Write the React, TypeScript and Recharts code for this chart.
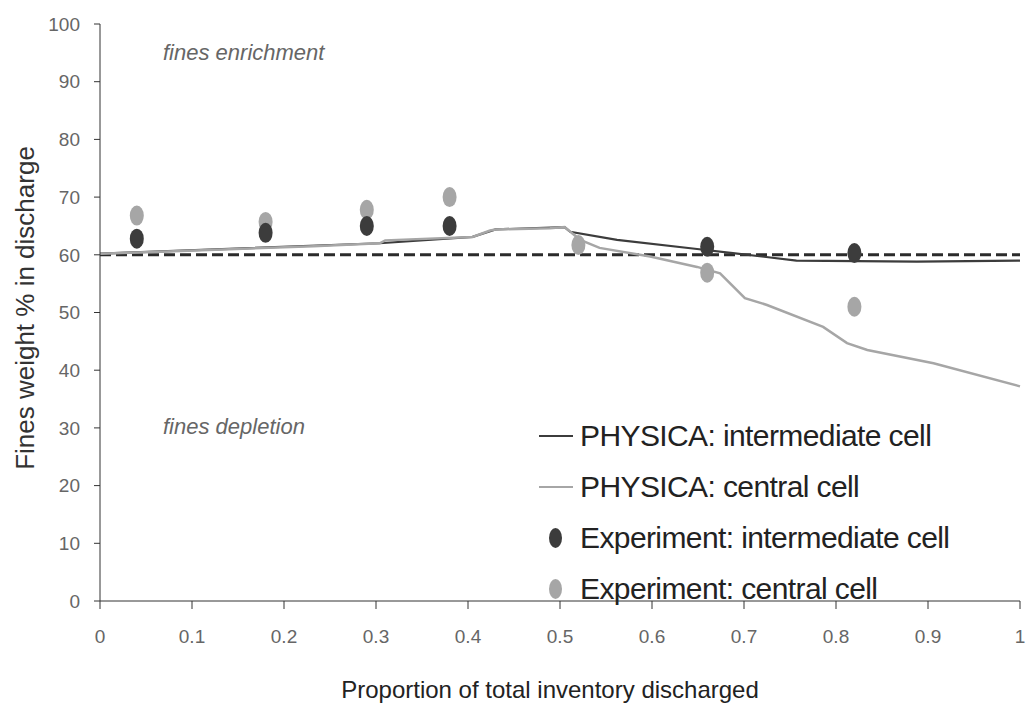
import React from "react"
import {
  ComposedChart, Line, Scatter, XAxis, YAxis, ReferenceLine
} from "recharts"

document.body.style.margin = "0"

const xTicks = [0, 0.1, 0.2, 0.3, 0.4, 0.5, 0.6, 0.7, 0.8, 0.9, 1]
const yTicks = [0, 10, 20, 30, 40, 50, 60, 70, 80, 90, 100]

// PHYSICA simulation curves (x = proportion discharged, y = fines %)
const simCentral = [
  { x: 0, y: 60.2 }, { x: 0.08, y: 60.6 }, { x: 0.148, y: 61.0 }, { x: 0.232, y: 61.5 },
  { x: 0.304, y: 62.0 }, { x: 0.31, y: 62.5 }, { x: 0.405, y: 63.1 }, { x: 0.424, y: 64.2 },
  { x: 0.43, y: 64.4 }, { x: 0.489, y: 64.6 }, { x: 0.505, y: 64.8 }, { x: 0.522, y: 62.6 },
  { x: 0.543, y: 61.2 }, { x: 0.598, y: 59.7 }, { x: 0.649, y: 57.9 }, { x: 0.674, y: 56.8 },
  { x: 0.701, y: 52.5 }, { x: 0.725, y: 51.3 }, { x: 0.786, y: 47.5 }, { x: 0.812, y: 44.7 },
  { x: 0.834, y: 43.5 }, { x: 0.906, y: 41.2 }, { x: 1, y: 37.2 },
]
const simIntermediate = [
  { x: 0, y: 60.2 }, { x: 0.304, y: 62.0 }, { x: 0.405, y: 63.1 }, { x: 0.43, y: 64.4 },
  { x: 0.505, y: 64.8 }, { x: 0.511, y: 64.0 }, { x: 0.562, y: 62.6 }, { x: 0.649, y: 61.0 },
  { x: 0.688, y: 60.3 }, { x: 0.757, y: 59.0 }, { x: 0.888, y: 58.8 }, { x: 1, y: 59.0 },
]

// experimental measurements
const expIntermediate = [
  { x: 0.04, y: 62.8 }, { x: 0.18, y: 63.8 }, { x: 0.29, y: 65.0 }, { x: 0.38, y: 65.0 },
  { x: 0.66, y: 61.4 }, { x: 0.82, y: 60.3 },
]
const expCentral = [
  { x: 0.04, y: 66.8 }, { x: 0.18, y: 65.7 }, { x: 0.29, y: 67.8 }, { x: 0.38, y: 70.0 },
  { x: 0.52, y: 61.7 }, { x: 0.66, y: 56.9 }, { x: 0.82, y: 51.0 },
]

const DARK = "#3c3c3c"
const LIGHT = "#a6a6a6"
const FONT = "'Liberation Sans', Arial, sans-serif"

const Ellipse = (color: string) => (props: any) => (
  <ellipse cx={props.cx} cy={props.cy} rx={7} ry={10} fill={color} />
)

const legendItems = [
  { label: "PHYSICA: intermediate cell", color: DARK, kind: "line" },
  { label: "PHYSICA: central cell", color: LIGHT, kind: "line" },
  { label: "Experiment: intermediate cell", color: DARK, kind: "dot" },
  { label: "Experiment: central cell", color: LIGHT, kind: "dot" },
]

const LegendBox = () => (
  <div style={{
    position: "absolute", left: 538, top: 410, fontFamily: FONT, fontSize: 30,
    letterSpacing: -0.6, color: "#222",
  }}>
    {legendItems.map(it => (
      <div key={it.label} style={{ display: "flex", alignItems: "center", height: 51 }}>
        <span style={{ width: 42, display: "flex", justifyContent: "center" }}>
          {it.kind === "line"
            ? <span style={{ width: 34, height: 2, background: it.color, marginLeft: -6 }} />
            : <span style={{ width: 13, height: 20, borderRadius: "50%", background: it.color, marginLeft: -8 }} />}
        </span>
        <span>{it.label}</span>
      </div>
    ))}
  </div>
)

const tickStyle = { fontSize: 19, fill: "#666", fontFamily: FONT }

export default function App() {
  return (
    <div style={{ position: "relative", width: 1031, height: 706, background: "#fff" }}>
      <ComposedChart width={1031} height={706} margin={{ top: 24, right: 11, left: 0, bottom: 75 }}>
        <XAxis
          type="number" dataKey="x" domain={[0, 1]} ticks={xTicks} height={30}
          tick={tickStyle} tickSize={8} tickMargin={21}
          stroke="#333" allowDuplicatedCategory={false}
        />
        <YAxis
          type="number" dataKey="y" domain={[0, 100]} ticks={yTicks} width={100}
          tick={tickStyle} tickSize={6} tickMargin={14} stroke="#333"
        />
        <ReferenceLine y={60} stroke="#2b2b2b" strokeWidth={3} strokeDasharray="11 5" />
        <Line data={simIntermediate} dataKey="y" type="linear" stroke={DARK} strokeWidth={2.2}
          dot={false} isAnimationActive={false} />
        <Line data={simCentral} dataKey="y" type="linear" stroke={LIGHT} strokeWidth={2.5}
          dot={false} isAnimationActive={false} />
        <Scatter data={expCentral} dataKey="y" fill={LIGHT} shape={Ellipse(LIGHT)} isAnimationActive={false} />
        <Scatter data={expIntermediate} dataKey="y" fill={DARK} shape={Ellipse(DARK)} isAnimationActive={false} />
      </ComposedChart>

      <LegendBox />
      <div style={{ position: "absolute", left: 163, top: 40, fontFamily: FONT, fontStyle: "italic", fontSize: 22, color: "#666" }}>
        fines enrichment
      </div>
      <div style={{ position: "absolute", left: 163, top: 414, fontFamily: FONT, fontStyle: "italic", fontSize: 22, color: "#666" }}>
        fines depletion
      </div>
      <div style={{
        position: "absolute", left: 25, top: 308, transform: "translate(-50%, -50%) rotate(-90deg)",
        whiteSpace: "nowrap", fontFamily: FONT, fontSize: 26, color: "#333",
      }}>
        Fines weight % in discharge
      </div>
      <div style={{
        position: "absolute", left: 550, top: 690, transform: "translate(-50%, -50%)",
        whiteSpace: "nowrap", fontFamily: FONT, fontSize: 24, color: "#222",
      }}>
        Proportion of total inventory discharged
      </div>
    </div>
  )
}
